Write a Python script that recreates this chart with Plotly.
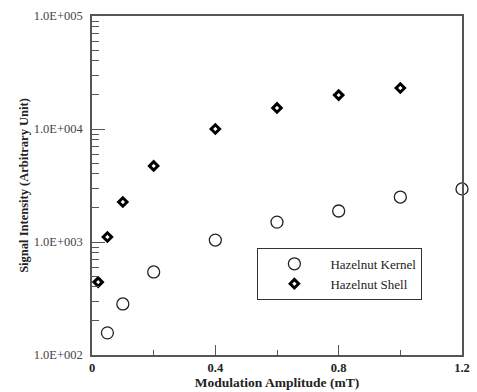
import plotly.graph_objects as go

kernel_x = [0.05, 0.1, 0.2, 0.4, 0.6, 0.8, 1.0, 1.2]
kernel_y = [157, 283, 543, 1040, 1500, 1880, 2500, 2950]
shell_x = [0.02, 0.05, 0.1, 0.2, 0.4, 0.6, 0.8, 1.0]
shell_y = [442, 1107, 2260, 4710, 10000, 15350, 19950, 23070]

x_tickvals = [0, 0.4, 0.8, 1.2]
x_ticktext = ["0", "0.4", "0.8", "1.2"]
y_tickvals = [100, 1000, 10000, 100000]
y_ticktext = ["1.0E+002", "1.0E+003", "1.0E+004", "1.0E+005"]

font = "Liberation Serif"
axcol = "#555555"

fig = go.Figure()
fig.add_trace(go.Scatter(
    x=kernel_x, y=kernel_y, mode="markers", name="Hazelnut Kernel",
    marker=dict(symbol="circle-open", size=12, color="#222222", line=dict(width=1.3, color="#222222")),
    cliponaxis=False,
))
fig.add_trace(go.Scatter(
    x=shell_x, y=shell_y, mode="markers", name="Hazelnut Shell",
    marker=dict(symbol="diamond-open", size=6.5, color="black", line=dict(width=3, color="black")),
    cliponaxis=False,
))

fig.update_layout(
    width=477, height=392,
    margin=dict(l=92, r=7, t=16, b=37),
    paper_bgcolor="white", plot_bgcolor="white",
    font=dict(family=font, color="black", size=11),
    showlegend=True,
    legend=dict(
        x=0.447, y=0.316, xanchor="left", yanchor="top",
        bordercolor="#333333", borderwidth=1, bgcolor="white",
        font=dict(family=font, size=13, color="#222222"),
        tracegroupgap=0, itemsizing="trace", itemwidth=62,
    ),
    xaxis=dict(
        range=[0, 1.2], tickmode="array", tickvals=x_tickvals, ticktext=x_ticktext,
        ticks="inside", ticklen=10, tickwidth=1, tickcolor=axcol,
        showline=True, linecolor=axcol, linewidth=1.5, mirror=True,
        showgrid=False, zeroline=False,
        tickfont=dict(family=font, size=12.5, color="#222222", weight="bold"),
        minor=dict(tickvals=[0.2, 0.6, 1.0], ticks="inside", ticklen=5, tickcolor=axcol, showgrid=False),
        title=dict(text="<b>Modulation Amplitude (mT)</b>", font=dict(family=font, size=13.5, color="#222222"), standoff=1),
    ),
    yaxis=dict(
        type="log", range=[2, 5], tickmode="array", tickvals=y_tickvals, ticktext=y_ticktext,
        ticks="inside", ticklen=13, tickwidth=1, tickcolor=axcol,
        showline=True, linecolor=axcol, linewidth=1.5, mirror=True,
        showgrid=False, zeroline=False, ticklabelstandoff=5,
        tickfont=dict(family=font, size=12.5, color="#444444"),
        minor=dict(ticks="inside", ticklen=7, tickcolor=axcol, dtick="D1", showgrid=False),
        title=dict(text="<b>Signal Intensity (Arbitrary Unit)</b>", font=dict(family=font, size=12.5, color="#222222"), standoff=2),
    ),
)

fig.write_html("out.html")
